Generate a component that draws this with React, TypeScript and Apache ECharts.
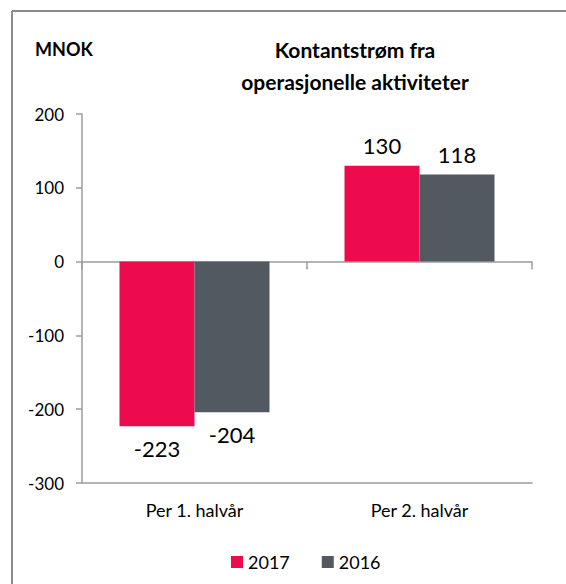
import React, { useEffect, useRef } from "react";
import * as echarts from "echarts";

const categories = ["Per 1. halvår", "Per 2. halvår"];
const seriesNames = ["2017", "2016"];
const values2017 = [-223, 130];
const values2016 = [-204, 118];
const yTicks = { min: -300, max: 200, interval: 100 };
const colors = ["#EE0B4D", "#525960"];

const FONT = "Lato, 'Open Sans', sans-serif";

export default function App() {
  const ref = useRef<HTMLDivElement>(null);
  useEffect(() => {
    document.body.style.margin = "0";
    if (!ref.current) return;
    const chart = echarts.init(ref.current, undefined, { renderer: "svg" });
    const mkData = (vals: number[]) =>
      vals.map((v) => ({
        value: v,
        label: { position: v < 0 ? "bottom" : "top", distance: v < 0 ? 11 : 9 },
      }));
    const axisColor = "#9C9C9C";
    chart.setOption({
      animation: false,
      backgroundColor: "#fff",
      textStyle: { fontFamily: FONT },
      title: {
        text: "Kontantstrøm fra\noperasjonelle aktiviteter",
        left: 350,
        top: 28,
        textAlign: "center",
        textStyle: {
          fontFamily: FONT,
          fontSize: 21,
          fontWeight: "bold",
          color: "#000",
          lineHeight: 32,
        },
      },
      graphic: [
        {
          type: "line",
          shape: { x1: 12, y1: 11, x2: 566, y2: 11 },
          style: { stroke: "#8C8C8C", lineWidth: 2 },
        },
        {
          type: "line",
          shape: { x1: 12, y1: 11, x2: 12, y2: 584 },
          style: { stroke: "#8C8C8C", lineWidth: 2 },
        },
        {
          type: "text",
          x: 35,
          y: 40,
          style: {
            text: "MNOK",
            font: `bold 18px ${FONT}`,
            fill: "#000",
          },
        },
      ],
      legend: {
        data: seriesNames,
        left: 226,
        top: 548,
        icon: "rect",
        itemWidth: 12,
        itemHeight: 12,
        itemGap: 32,
        textStyle: { fontFamily: FONT, fontSize: 18, color: "#000" },
      },
      grid: { left: 82, right: 34, top: 114, bottom: 101 },
      xAxis: [
        {
          type: "category",
          data: categories,
          position: "bottom",
          axisLine: { onZero: false, lineStyle: { color: axisColor, width: 1.5 } },
          axisTick: { show: false },
          axisLabel: {
            fontFamily: FONT,
            fontSize: 18,
            color: "#000",
            margin: 18,
          },
        },
        {
          type: "category",
          data: categories,
          position: "top",
          axisLine: { onZero: true, lineStyle: { color: axisColor, width: 1.5 } },
          axisTick: {
            show: true,
            inside: true,
            length: 8,
            lineStyle: { color: axisColor, width: 1.5 },
          },
          axisLabel: { show: false },
        },
      ],
      yAxis: {
        type: "value",
        min: yTicks.min,
        max: yTicks.max,
        interval: yTicks.interval,
        axisLine: { show: true, lineStyle: { color: axisColor, width: 1.5 } },
        axisTick: { show: true, length: 6, lineStyle: { color: axisColor, width: 1.5 } },
        splitLine: { show: false },
        axisLabel: {
          fontFamily: FONT,
          fontSize: 17,
          color: "#000",
          margin: 18,
        },
      },
      series: [
        {
          name: seriesNames[0],
          type: "bar",
          xAxisIndex: 0,
          data: mkData(values2017),
          barWidth: 75,
          barGap: "0%",
          itemStyle: { color: colors[0] },
          label: {
            show: true,
            fontFamily: FONT,
            fontSize: 22,
            color: "#000",
          },
        },
        {
          name: seriesNames[1],
          type: "bar",
          xAxisIndex: 0,
          data: mkData(values2016),
          barWidth: 75,
          barGap: "0%",
          itemStyle: { color: colors[1] },
          label: {
            show: true,
            fontFamily: FONT,
            fontSize: 22,
            color: "#000",
          },
        },
      ],
    });
    return () => chart.dispose();
  }, []);
  return <div ref={ref} style={{ width: 566, height: 584 }} />;
}
